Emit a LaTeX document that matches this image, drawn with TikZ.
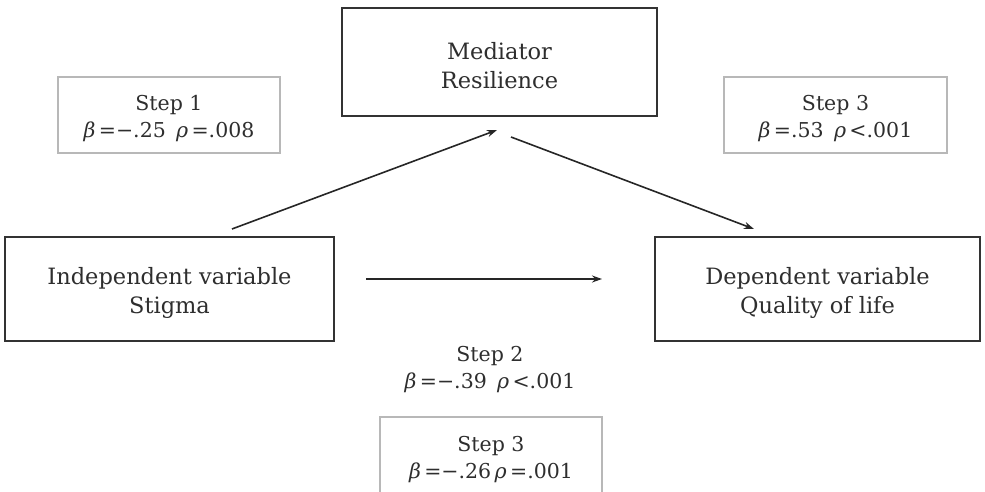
\documentclass[tikz,border=0pt]{standalone}
\usepackage{fontspec}
\setmainfont{DejaVu Serif}
\newcommand{\bet}{{\itshape β}}
\newcommand{\rh}{{\itshape ρ}}
\usetikzlibrary{arrows.meta}
\definecolor{txt}{gray}{0.18}
\begin{document}
\begin{tikzpicture}[x=1pt,y=-1pt,
  mainbox/.style={draw=black!80,line width=2.2pt,fill=white,inner sep=0pt},
  maintext/.style={align=center,inner sep=0pt,text=txt,font=\fontsize{22.5}{29}\selectfont},
  stepbox/.style={draw=black!28,line width=1.8pt,fill=white,inner sep=0pt},
  steptext/.style={align=center,inner sep=0pt,text=txt,font=\fontsize{20.5}{27}\selectfont},
  conn/.style={draw=black!85,line width=1.6pt,-{Stealth[length=10pt,width=7pt]}}]
\useasboundingbox (0,0) rectangle (985,492);
\clip (0,0) rectangle (985,492);
\node[mainbox,minimum width=315pt,minimum height=108pt] (med) at (499.5,62) {};
\node[maintext] (medt) at (499.5,66) {Mediator\\Resilience};
\node[stepbox,minimum width=222pt,minimum height=76pt] (s1) at (169,115) {};
\node[steptext] (s1t) at (169,119) {Step 1\\\bet\,=−.25\enspace\rh\,=.008};
\node[stepbox,minimum width=223pt,minimum height=76pt] (s3a) at (835.5,115) {};
\node[steptext] (s3at) at (835.5,119) {Step 3\\\bet\,=.53\enspace\rh\,<.001};
\node[mainbox,minimum width=329pt,minimum height=104pt] (ind) at (169.5,289) {};
\node[maintext] (indt) at (169.5,293) {Independent variable\\Stigma};
\node[mainbox,minimum width=325pt,minimum height=104pt] (dep) at (817.5,289) {};
\node[maintext] (dept) at (817.5,293) {Dependent variable\\Quality of life};
\node[steptext] (s2) at (490,370) {Step 2\\\bet\,=−.39\enspace\rh\,<.001};
\node[stepbox,minimum width=222pt,minimum height=90pt] (s3b) at (491,462) {};
\node[steptext] (s3bt) at (491,460) {Step 3\\\bet\,=−.26\,\rh\,=.001};
\coordinate (a1s) at (232,229);
\coordinate (a1e) at (497,130);
\coordinate (a2s) at (511,137);
\coordinate (a2e) at (754,229);
\coordinate (a3s) at (366,279);
\coordinate (a3e) at (602,279);
\draw[conn] (a1s) -- (a1e);
\draw[conn] (a2s) -- (a2e);
\draw[conn] (a3s) -- (a3e);
\end{tikzpicture}
\end{document}
